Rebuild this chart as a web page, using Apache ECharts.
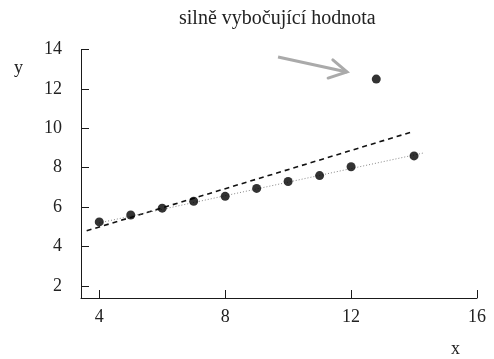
<!DOCTYPE html>
<html>
<head>
  <meta charset="utf-8">
  <title>echarts</title>
  <script src="https://cdn.jsdelivr.net/npm/echarts@6/dist/echarts.min.js"></script>
  <style type="text/css">
    body { margin: 0; padding: 0; background: #fff; }
    #main { width: 494px; height: 359px; }
  </style>
</head>
<body>
<div id="main"></div>
<script>
// hodnoty
const xValues = [4, 5, 6, 7, 8, 9, 10, 11, 12, 12.8, 14];
const yValues = [5.25, 5.6, 5.95, 6.3, 6.55, 6.95, 7.3, 7.6, 8.05, 12.5, 8.6];
// přímka MNČ (čárkovaně) a robustní přímka (tečkovaně)
const lsLine = [[3.6, 4.8], [13.9, 9.8]];
const robustLine = [[4, 5.2], [14.3, 8.75]];
// šipka na odlehlou hodnotu
const arrowShaft = [[9.68, 13.62], [11.87, 12.86]];
const arrowHead = [[11.42, 13.47], [11.87, 12.86], [11.27, 12.55]];
const xTicks = [4, 8, 12, 16];
const yTicks = [2, 4, 6, 8, 10, 12, 14];
const noteText = 'silně vybočující hodnota';

const FONT = 'Liberation Serif';
const points = xValues.map((x, i) => [x, yValues[i]]);

const axisCommon = {
  axisLine: { onZero: false, lineStyle: { color: '#1a1a1a', width: 1 } },
  axisTick: { inside: true, length: 8, lineStyle: { color: '#1a1a1a' } },
  splitLine: { show: false },
  axisLabel: { fontFamily: FONT, fontSize: 18, color: '#222' }
};

const myChart = echarts.init(document.getElementById('main'));
myChart.setOption({
  animation: false,
  backgroundColor: '#fff',
  title: {
    text: noteText,
    left: 174,
    top: 4,
    textStyle: { fontFamily: FONT, fontSize: 20, fontWeight: 'normal', color: '#222' }
  },
  grid: { left: 81, right: 17, top: 49.5, bottom: 61 },
  xAxis: Object.assign({}, axisCommon, {
    type: 'value',
    min: 3.42,
    max: 16,
    name: 'x',
    nameLocation: 'end',
    nameGap: -26,
    nameTextStyle: { fontFamily: FONT, fontSize: 18, color: '#222', verticalAlign: 'top', padding: [42, 0, 0, 0] },
    axisTick: Object.assign({}, axisCommon.axisTick, { customValues: xTicks }),
    axisLabel: Object.assign({}, axisCommon.axisLabel, { customValues: xTicks, margin: 10 })
  }),
  yAxis: Object.assign({}, axisCommon, {
    type: 'value',
    min: 1.39,
    max: 14,
    name: 'y',
    nameLocation: 'end',
    nameGap: -28,
    nameTextStyle: { fontFamily: FONT, fontSize: 18, color: '#222', align: 'right', padding: [0, 58, 0, 0] },
    axisTick: Object.assign({}, axisCommon.axisTick, { customValues: yTicks }),
    axisLabel: Object.assign({}, axisCommon.axisLabel, { customValues: yTicks, margin: 19 })
  }),
  series: [
    {
      type: 'line',
      data: lsLine,
      symbol: 'none',
      lineStyle: { color: '#111', width: 1.6, type: [5, 4] },
      z: 3
    },
    {
      type: 'line',
      data: robustLine,
      symbol: 'none',
      lineStyle: { color: '#888', width: 1, type: [1, 2] },
      z: 3
    },
    {
      type: 'line',
      data: arrowShaft,
      symbol: 'none',
      lineStyle: { color: '#aaa', width: 3 },
      z: 2
    },
    {
      type: 'line',
      data: arrowHead,
      symbol: 'none',
      lineStyle: { color: '#aaa', width: 3, cap: 'round', join: 'miter' },
      z: 2
    },
    {
      type: 'scatter',
      data: points,
      symbol: 'circle',
      symbolSize: 9,
      itemStyle: { color: '#000' },
      z: 4
    }
  ]
});
</script>
</body>
</html>
